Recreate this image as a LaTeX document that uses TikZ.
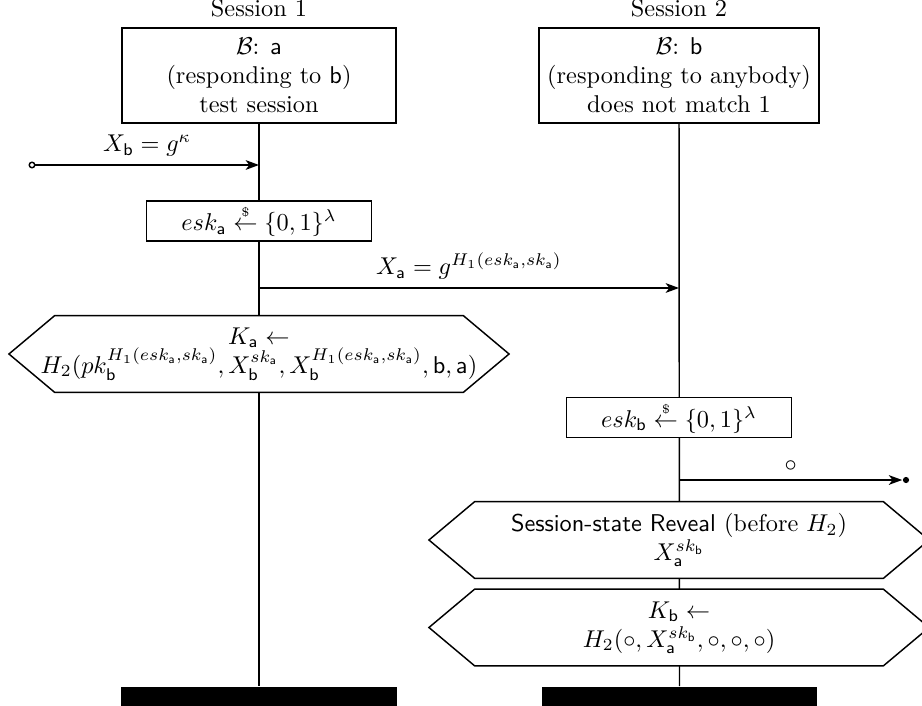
\documentclass[tikz,border=0pt]{standalone}
\usepackage{tikz}
\usetikzlibrary{arrows.meta,backgrounds,shapes.symbols}
\newcommand{\sessionwidth}{112.7pt}
\newcommand{\hexwidth}{205.8pt}
\newcommand{\hexheight}{31.6pt}
\newcommand{\rnd}{\stackrel{\scriptscriptstyle\$}{\leftarrow}}

\begin{document}
\begin{tikzpicture}[x=0.4115pt, y=-0.4115pt, semithick, >={Stealth[length=5.5pt,width=4pt,inset=1.5pt]}]
\clip (0,0) rectangle (922,705);
\node (s1) at (259,17) [anchor=base] {Session 1};
\node (s2) at (679,17) [anchor=base] {Session 2};
\node[draw,fill=white,align=center] (box1) at (259,75.5) [minimum width=\sessionwidth, minimum height=39.1pt] {$\mathcal{B}$: $\mathsf{a}$\\(responding to $\mathsf{b}$)\\test session};
\node[draw,fill=white,align=center] (box2) at (679,75.5) [minimum width=\sessionwidth, minimum height=39.1pt] {$\mathcal{B}$: $\mathsf{b}$\\(responding to anybody)\\does not match 1};
%session 1
\node[draw,circle,inner sep=0.8pt] (xbsrc) at (32,165) {};
\coordinate (xbdst) at (259,165);
\draw[->] (xbsrc) -- (xbdst) node[midway,above] {$X_{\mathsf{b}} = g^{\kappa}$};
\node[draw,fill=white] (eska) at (259,221) [minimum width=92.6pt, minimum height=16.5pt, inner sep=1pt] {$esk_{\mathsf{a}} \rnd \{0,1\}^{\lambda}$};
\coordinate (xasrc) at (259,288);
\coordinate (xadst) at (679,288);
\draw[->] (xasrc) -- (xadst) node[midway,above] {$X_{\mathsf{a}} = g^{H_1(esk_{\mathsf{a}},sk_{\mathsf{a}})}$};
\node[draw,fill=white,align=center,signal,signal to=west and east,signal pointer angle=80] (hexa) at (259,354) [minimum width=\hexwidth, minimum height=\hexheight, inner ysep=0pt, inner xsep=-20pt] {$K_{\mathsf{a}} \leftarrow$\\$H_2(pk_{\mathsf{b}}^{H_1(esk_{\mathsf{a}},sk_{\mathsf{a}})}, X_{\mathsf{b}}^{sk_{\mathsf{a}}}, X_{\mathsf{b}}^{H_1(esk_{\mathsf{a}},sk_{\mathsf{a}})}, \mathsf{b}, \mathsf{a})$};
%session 2
\node[draw,fill=white] (eskb) at (679,417.5) [minimum width=92.6pt, minimum height=16.5pt, inner sep=1pt] {$esk_{\mathsf{b}} \rnd \{0,1\}^{\lambda}$};
\coordinate (outsrc) at (679,480);
\node[fill,circle,inner sep=0.9pt] (outdst) at (906,480) {};
\draw[->] (outsrc) -- (outdst) node[midway,above] {$\circ$};
\node[draw,fill=white,align=center,signal,signal to=west and east,signal pointer angle=80] (reveal) at (679,540) [minimum width=\hexwidth, minimum height=\hexheight, inner sep=0pt] {\textsf{Session-state Reveal} (before $H_2$)\\$X_{\mathsf{a}}^{sk_{\mathsf{b}}}$};
\node[draw,fill=white,align=center,signal,signal to=west and east,signal pointer angle=80] (hexb) at (679,627.5) [minimum width=\hexwidth, minimum height=\hexheight, inner sep=0pt] {$K_{\mathsf{b}} \leftarrow$\\$H_2(\circ, X_{\mathsf{a}}^{sk_{\mathsf{b}}}, \circ, \circ, \circ)$};
%ends
\node[fill,inner sep=0pt] (bar1) at (259,699) [minimum width=113.2pt, minimum height=10pt] {};
\node[fill,inner sep=0pt] (bar2) at (679.5,699) [minimum width=113.2pt, minimum height=10pt] {};
\begin{scope}[on background layer]
\draw[semithick] (box1.south) -- (bar1.north);
\draw[semithick] (box2.south) -- (bar2.north);
\end{scope}
\end{tikzpicture}
\end{document}
